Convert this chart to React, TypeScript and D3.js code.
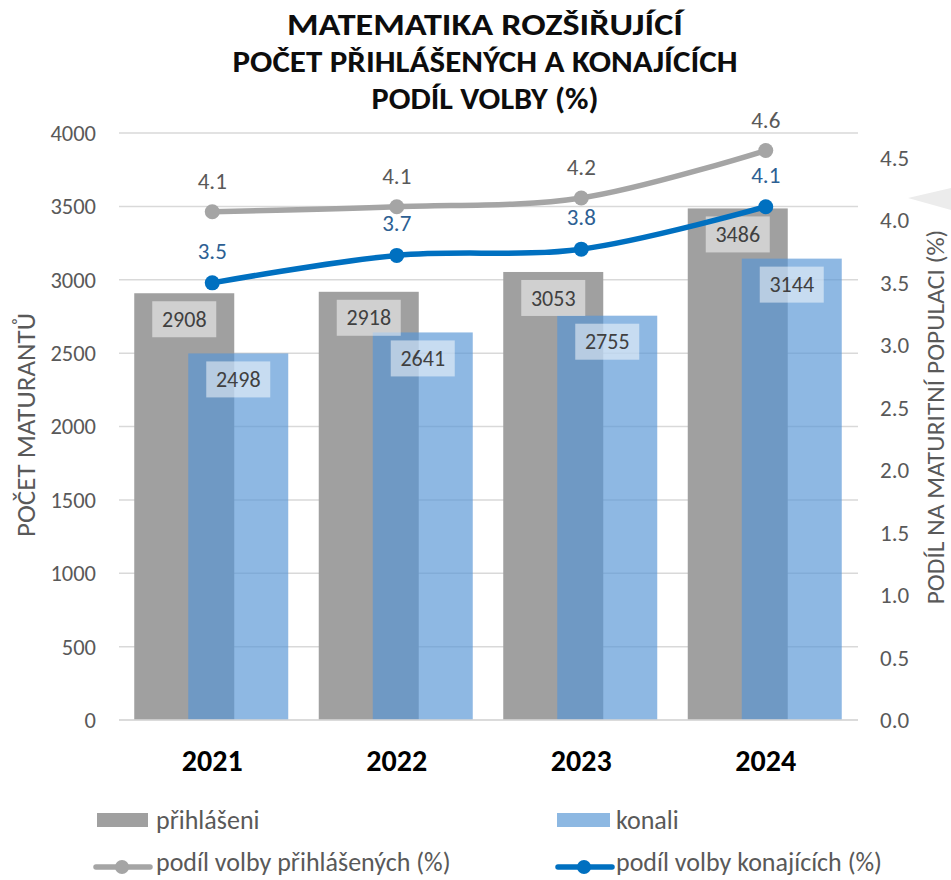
import React from "react";
import * as d3 from "d3";

const years = ["2021", "2022", "2023", "2024"];
const prihlaseni = [2908, 2918, 3053, 3486];
const konali = [2498, 2641, 2755, 3144];
const podilPrihlasenych = [4.07, 4.11, 4.18, 4.56];
const podilKonajicich = [3.5, 3.72, 3.77, 4.11];
const leftTicks = [0, 500, 1000, 1500, 2000, 2500, 3000, 3500, 4000];
const rightTicks = [0, 0.5, 1, 1.5, 2, 2.5, 3, 3.5, 4, 4.5];
const titleLines = ["MATEMATIKA ROZŠIŘUJÍCÍ", "POČET PŘIHLÁŠENÝCH A KONAJÍCÍCH", "PODÍL VOLBY (%)"];

const FONT = "Carlito, Calibri, Lato, sans-serif";
const W = 951, H = 880;
const L = 119, R = 858, T = 133, B = 720;
const titleWidths = [396, 505, 227];

export default function App() {
  const x = d3.scaleBand<string>().domain(years).range([L + 1, R]).paddingInner(0).paddingOuter(0);
  const yL = d3.scaleLinear().domain([0, 4000]).range([B, T]);
  const yR = d3.scaleLinear().domain([0, 4.7]).range([B, T]);
  const cx = (yr: string) => (x(yr) as number) + x.bandwidth() / 2;
  const line = d3.line<number>().x((_, i) => cx(years[i])).y((v) => yR(v)).curve(d3.curveCatmullRom.alpha(0.5));
  const barW = 100;

  return (
    <svg width={W} height={H} style={{ position: "absolute", left: 0, top: 0, background: "#fff" }} fontFamily={FONT}>
      <rect width={W} height={H} fill="#fff" />
      {/* title */}
      {titleLines.map((t, i) => (
        <text key={t} x={485} y={35 + i * 37} textAnchor="middle" fontWeight="bold" fontSize={31} fill="#0d0d0d"
          textLength={titleWidths[i]} lengthAdjust="spacingAndGlyphs">{t}</text>
      ))}
      {/* grid */}
      {leftTicks.map((t) => (
        <line key={t} x1={L} x2={R} y1={yL(t)} y2={yL(t)} stroke="#d9d9d9" strokeWidth={1.5} />
      ))}
      {leftTicks.map((t) => (
        <text key={"l" + t} x={96} y={yL(t)} dy="0.35em" textAnchor="end" fontSize={22.5} fill="#595959">{t}</text>
      ))}
      {rightTicks.map((t) => (
        <text key={"r" + t} x={880} y={yR(t)} dy="0.35em" textAnchor="start" fontSize={23} fill="#595959">{d3.format(".1f")(t)}</text>
      ))}
      {/* axis titles */}
      <text transform={`translate(35,425) rotate(-90)`} textAnchor="middle" fontSize={27} fill="#595959">POČET MATURANTŮ</text>
      <text transform={`translate(944,417) rotate(-90)`} textAnchor="middle" fontSize={25.5} fill="#595959">PODÍL NA MATURITNÍ POPULACI (%)</text>
      {/* bars */}
      {years.map((yr, i) => (
        <rect key={"g" + yr} x={cx(yr) - 78} y={yL(prihlaseni[i])} width={barW} height={B - yL(prihlaseni[i])} fill="#a0a0a0" />
      ))}
      {years.map((yr, i) => (
        <rect key={"b" + yr} x={cx(yr) - 24} y={yL(konali[i])} width={barW} height={B - yL(konali[i])} fill="rgb(88,151,213)" fillOpacity={0.68} />
      ))}
      {/* bar labels */}
      {years.map((yr, i) => (
        <g key={"gl" + yr}>
          <rect x={cx(yr) - 28 - 32} y={yL(prihlaseni[i]) + 8} width={64} height={36} fill="#fff" fillOpacity={0.5} />
          <text x={cx(yr) - 28} y={yL(prihlaseni[i]) + 26} dy="0.35em" textAnchor="middle" fontSize={22} fill="#404040">{prihlaseni[i]}</text>
        </g>
      ))}
      {years.map((yr, i) => (
        <g key={"bl" + yr}>
          <rect x={cx(yr) + 26 - 32} y={yL(konali[i]) + 8} width={64} height={36} fill="#fff" fillOpacity={0.5} />
          <text x={cx(yr) + 26} y={yL(konali[i]) + 26} dy="0.35em" textAnchor="middle" fontSize={22} fill="#404040">{konali[i]}</text>
        </g>
      ))}
      {/* baseline */}
      <line x1={L} x2={R} y1={B} y2={B} stroke="#d9d9d9" strokeWidth={1.5} />
      {/* lines */}
      <path d={line(podilPrihlasenych) as string} fill="none" stroke="#a5a5a5" strokeWidth={5.5} strokeLinecap="round" />
      <path d={line(podilKonajicich) as string} fill="none" stroke="#0070c0" strokeWidth={5.5} strokeLinecap="round" />
      {years.map((yr, i) => (
        <circle key={"cg" + yr} cx={cx(yr)} cy={yR(podilPrihlasenych[i])} r={7.5} fill="#a5a5a5" />
      ))}
      {years.map((yr, i) => (
        <circle key={"cb" + yr} cx={cx(yr)} cy={yR(podilKonajicich[i])} r={7.5} fill="#0070c0" />
      ))}
      {years.map((yr, i) => (
        <text key={"tg" + yr} x={cx(yr)} y={yR(podilPrihlasenych[i]) - 31} dy="0.35em" textAnchor="middle" fontSize={23} fill="#595959">{d3.format(".1f")(podilPrihlasenych[i])}</text>
      ))}
      {years.map((yr, i) => (
        <text key={"tb" + yr} x={cx(yr)} y={yR(podilKonajicich[i]) - 32} dy="0.35em" textAnchor="middle" fontSize={23} fill="#2d5f93">{d3.format(".1f")(podilKonajicich[i])}</text>
      ))}
      {/* x labels */}
      {years.map((yr) => (
        <text key={"x" + yr} x={cx(yr)} y={771} textAnchor="middle" fontWeight="bold" fontSize={30} fill="#000">{yr}</text>
      ))}
      {/* legend */}
      <rect x={97} y={813} width={51} height={14} fill="#a0a0a0" />
      <text x={156} y={829} fontSize={26} fill="#595959">přihlášeni</text>
      <rect x={557} y={813} width={53} height={14} fill="#8db8e2" />
      <text x={616} y={829} fontSize={26} fill="#595959">konali</text>
      <line x1={96} x2={150} y1={867} y2={867} stroke="#a5a5a5" strokeWidth={5.5} strokeLinecap="round" />
      <circle cx={122} cy={867} r={7} fill="#a5a5a5" />
      <text x={156} y={871} fontSize={26} fill="#595959">podíl volby přihlášených (%)</text>
      <line x1={558} x2={612} y1={867} y2={867} stroke="#0070c0" strokeWidth={5.5} strokeLinecap="round" />
      <circle cx={584} cy={867} r={7} fill="#0070c0" />
      <text x={616} y={871} fontSize={26} fill="#595959">podíl volby konajících (%)</text>
      {/* decoration triangle at right edge */}
      <polygon points="908,198 951,188 951,210" fill="#ececec" />
    </svg>
  );
}
